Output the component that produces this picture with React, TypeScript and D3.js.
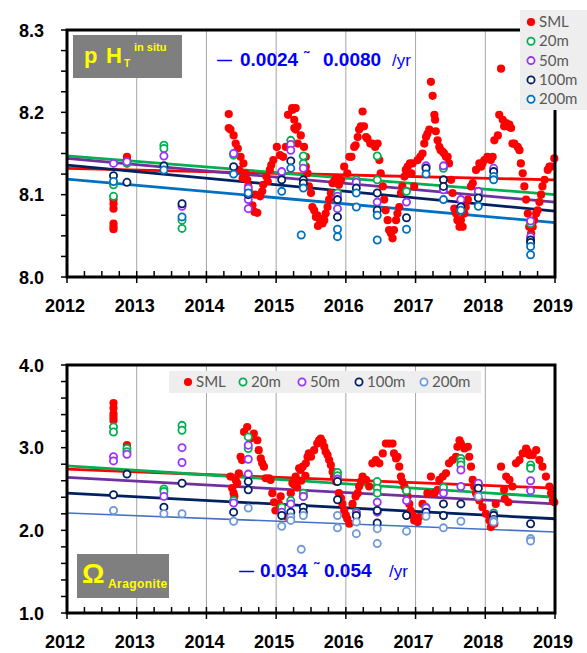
import React from 'react';
import * as d3 from 'd3';

type Pt = [number, number];

// ---- data (decimal year, value) ----
const yearTicks = [2012, 2013, 2014, 2015, 2016, 2017, 2018, 2019];
const depthNames = ['SML', '20m', '50m', '100m', '200m'];
const phTicks = [8.0, 8.1, 8.2, 8.3];
const omTicks = [1.0, 2.0, 3.0, 4.0];

const phSML: Pt[] = [
  [2012.667, 8.094], [2012.667, 8.089], [2012.667, 8.083], [2012.667, 8.065], [2012.667, 8.061], [2012.667, 8.058],
  [2012.86, 8.146], [2012.86, 8.143],
  [2014.32, 8.198], [2014.32, 8.181], [2014.345, 8.179], [2014.39, 8.172], [2014.42, 8.162], [2014.45, 8.156],
  [2014.47, 8.130], [2014.49, 8.146], [2014.52, 8.120], [2014.53, 8.138], [2014.56, 8.126], [2014.585, 8.118],
  [2014.60, 8.110], [2014.62, 8.102], [2014.66, 8.087], [2014.69, 8.079], [2014.70, 8.100], [2014.73, 8.078],
  [2014.77, 8.098], [2014.80, 8.104], [2014.815, 8.112], [2014.86, 8.122], [2014.88, 8.116], [2014.91, 8.130],
  [2014.93, 8.136], [2014.96, 8.142], [2015.01, 8.158], [2015.055, 8.148], [2015.10, 8.146], [2015.14, 8.158],
  [2015.17, 8.197], [2015.23, 8.205], [2015.26, 8.181], [2015.28, 8.205], [2015.31, 8.162],
  [2015.234, 8.203], [2015.26, 8.191], [2015.28, 8.179], [2015.306, 8.183], [2015.354, 8.172], [2015.40, 8.158],
  [2015.426, 8.146], [2015.426, 8.134], [2015.45, 8.126], [2015.47, 8.110], [2015.50, 8.102], [2015.52, 8.085],
  [2015.545, 8.081], [2015.57, 8.073], [2015.59, 8.075], [2015.60, 8.062], [2015.617, 8.071], [2015.64, 8.067],
  [2015.65, 8.070], [2015.665, 8.065], [2015.69, 8.069], [2015.71, 8.077], [2015.737, 8.085], [2015.76, 8.094],
  [2015.785, 8.102], [2015.81, 8.114], [2015.83, 8.116], [2015.856, 8.120], [2015.90, 8.112], [2015.93, 8.118],
  [2015.976, 8.134], [2016.02, 8.126], [2016.05, 8.146], [2016.08, 8.146], [2016.12, 8.158], [2016.14, 8.160],
  [2016.17, 8.170], [2016.19, 8.179], [2016.215, 8.183], [2016.24, 8.201], [2016.26, 8.183], [2016.29, 8.170],
  [2016.31, 8.168], [2016.35, 8.162], [2016.38, 8.162], [2016.42, 8.158], [2016.455, 8.162], [2016.48, 8.142],
  [2016.50, 8.126], [2016.53, 8.110], [2016.55, 8.094], [2016.57, 8.081], [2016.60, 8.069], [2016.62, 8.057],
  [2016.646, 8.053], [2016.67, 8.047], [2016.69, 8.057], [2016.72, 8.069], [2016.74, 8.077], [2016.766, 8.085],
  [2016.79, 8.102], [2016.81, 8.110], [2016.84, 8.122], [2016.86, 8.130], [2016.886, 8.134], [2016.92, 8.138],
  [2016.94, 8.126], [2016.957, 8.138], [2016.98, 8.110],
  [2017.03, 8.142], [2017.067, 8.146], [2017.10, 8.150], [2017.125, 8.162], [2017.15, 8.170], [2017.17, 8.174],
  [2017.197, 8.179], [2017.22, 8.237], [2017.245, 8.220], [2017.27, 8.197], [2017.28, 8.191], [2017.29, 8.177],
  [2017.316, 8.166], [2017.34, 8.158], [2017.36, 8.154], [2017.39, 8.152], [2017.41, 8.150], [2017.436, 8.146],
  [2017.46, 8.146], [2017.48, 8.138], [2017.51, 8.118], [2017.53, 8.102], [2017.556, 8.083], [2017.58, 8.077],
  [2017.60, 8.069], [2017.63, 8.061], [2017.65, 8.069], [2017.675, 8.061], [2017.70, 8.077], [2017.72, 8.085],
  [2017.75, 8.094], [2017.795, 8.110], [2017.82, 8.114], [2017.867, 8.130], [2017.915, 8.138], [2017.94, 8.134],
  [2017.96, 8.138], [2017.987, 8.142], [2018.03, 8.146], [2018.08, 8.142],
  [2018.106, 8.146], [2018.13, 8.166], [2018.18, 8.172], [2018.20, 8.197], [2018.226, 8.253], [2018.25, 8.191],
  [2018.27, 8.183], [2018.30, 8.187], [2018.32, 8.183], [2018.346, 8.185], [2018.37, 8.181], [2018.39, 8.162],
  [2018.417, 8.162], [2018.465, 8.158], [2018.49, 8.154], [2018.51, 8.138], [2018.537, 8.126], [2018.56, 8.110],
  [2018.585, 8.094], [2018.61, 8.077], [2018.63, 8.061], [2018.657, 8.053], [2018.68, 8.061], [2018.70, 8.069],
  [2018.73, 8.077], [2018.75, 8.081], [2018.776, 8.091], [2018.80, 8.100], [2018.82, 8.110], [2018.85, 8.118],
  [2018.896, 8.130], [2018.92, 8.134], [2018.944, 8.134], [2018.99, 8.144],
];

const ph20: Pt[] = [
  [2012.667, 8.112], [2012.667, 8.098], [2012.86, 8.138], [2013.39, 8.160], [2013.39, 8.156],
  [2013.65, 8.069], [2013.65, 8.059], [2014.39, 8.148], [2014.6, 8.105], [2015.08, 8.126],
  [2015.21, 8.166], [2015.39, 8.147], [2015.39, 8.138], [2015.88, 8.102], [2016.15, 8.118],
  [2016.45, 8.147], [2016.45, 8.118], [2016.87, 8.104], [2017.15, 8.134], [2017.4, 8.132],
  [2017.65, 8.081], [2017.9, 8.102], [2018.12, 8.130], [2018.65, 8.065],
];
const ph50: Pt[] = [
  [2012.667, 8.138], [2012.86, 8.140], [2013.39, 8.147], [2013.65, 8.086], [2014.39, 8.150],
  [2014.6, 8.108], [2014.6, 8.094], [2014.6, 8.083], [2015.08, 8.128], [2015.21, 8.161],
  [2015.21, 8.154], [2015.39, 8.132], [2015.88, 8.098], [2015.88, 8.083], [2016.15, 8.115],
  [2016.45, 8.091], [2016.87, 8.091], [2017.15, 8.135], [2017.4, 8.135], [2017.4, 8.106],
  [2017.65, 8.094], [2017.9, 8.104], [2018.12, 8.132], [2018.65, 8.068], [2018.65, 8.049],
];
const ph100: Pt[] = [
  [2012.667, 8.123], [2012.86, 8.115], [2013.39, 8.135], [2013.65, 8.089], [2014.39, 8.134],
  [2014.6, 8.100], [2015.08, 8.118], [2015.21, 8.141], [2015.39, 8.118], [2015.39, 8.114],
  [2015.88, 8.094], [2015.88, 8.073], [2016.15, 8.108], [2016.45, 8.102], [2016.45, 8.081],
  [2016.87, 8.072], [2017.15, 8.132], [2017.4, 8.118], [2017.4, 8.110], [2017.65, 8.085],
  [2017.9, 8.096], [2018.12, 8.128], [2018.65, 8.045], [2018.65, 8.042],
];
const ph200: Pt[] = [
  [2012.667, 8.116], [2013.39, 8.130], [2013.65, 8.073], [2014.39, 8.125], [2014.6, 8.102],
  [2015.08, 8.104], [2015.21, 8.132], [2015.36, 8.051], [2015.39, 8.108], [2015.88, 8.058],
  [2015.88, 8.049], [2016.15, 8.102], [2016.15, 8.085], [2016.45, 8.075], [2016.45, 8.045],
  [2016.87, 8.058], [2017.15, 8.125], [2017.4, 8.094], [2017.65, 8.081], [2017.9, 8.086],
  [2018.12, 8.122], [2018.12, 8.118], [2018.65, 8.037], [2018.65, 8.027],
];

const omSML: Pt[] = [
  [2012.667, 3.54], [2012.667, 3.48], [2012.667, 3.41], [2012.667, 3.37], [2012.667, 3.33], [2012.86, 3.03],
  [2014.345, 2.65], [2014.37, 2.51], [2014.39, 2.45], [2014.40, 2.41], [2014.42, 2.61], [2014.44, 2.57],
  [2014.465, 2.69], [2014.49, 2.89], [2014.51, 2.85], [2014.54, 3.19], [2014.585, 3.25], [2014.63, 3.11],
  [2014.68, 3.17], [2014.73, 3.09], [2014.75, 2.97], [2014.78, 2.87], [2014.80, 2.81], [2014.825, 2.77],
  [2014.85, 2.63], [2014.90, 2.63], [2014.92, 2.61], [2014.945, 2.45], [2014.97, 2.34], [2014.99, 2.24],
  [2015.04, 2.32], [2015.065, 2.41], [2015.16, 2.16], [2015.21, 2.45], [2015.26, 2.55], [2015.30, 2.59],
  [2015.35, 2.73],
  [2015.234, 2.57], [2015.28, 2.65], [2015.30, 2.52], [2015.33, 2.75], [2015.36, 2.60], [2015.38, 2.77],
  [2015.42, 2.66], [2015.426, 2.81], [2015.45, 2.89], [2015.47, 2.93], [2015.50, 2.89], [2015.545, 2.97],
  [2015.59, 3.05], [2015.617, 3.09], [2015.64, 3.11], [2015.665, 3.07], [2015.69, 3.01], [2015.71, 2.95],
  [2015.737, 2.91], [2015.76, 2.85], [2015.785, 2.79], [2015.81, 2.71], [2015.83, 2.65], [2015.856, 2.59],
  [2015.90, 2.45], [2015.93, 2.39], [2015.95, 2.32], [2015.976, 2.24], [2016.0, 2.18], [2016.02, 2.14],
  [2016.05, 2.08],
  [2016.096, 2.32], [2016.14, 2.41], [2016.17, 2.45], [2016.19, 2.53], [2016.215, 2.59], [2016.24, 2.65],
  [2016.29, 2.61], [2016.335, 2.53], [2016.38, 2.81], [2016.43, 2.85], [2016.48, 2.81], [2016.53, 2.93],
  [2016.574, 3.05], [2016.62, 3.05], [2016.67, 3.05], [2016.69, 2.93], [2016.72, 2.87], [2016.74, 2.89],
  [2016.766, 2.77], [2016.79, 2.65], [2016.81, 2.59], [2016.84, 2.53], [2016.86, 2.49], [2016.886, 2.41],
  [2016.91, 2.32], [2016.93, 2.24], [2016.957, 2.18], [2016.98, 2.12], [2017.03, 2.10],
  [2017.05, 2.16], [2017.10, 2.32], [2017.17, 2.45], [2017.22, 2.65], [2017.27, 2.45], [2017.316, 2.49],
  [2017.34, 2.61], [2017.39, 2.65], [2017.436, 2.69], [2017.48, 2.81], [2017.53, 2.85], [2017.58, 2.89],
  [2017.60, 3.01], [2017.63, 3.09], [2017.65, 3.05], [2017.70, 2.99], [2017.75, 3.01], [2017.77, 2.89],
  [2017.795, 2.77], [2017.82, 2.61], [2017.84, 2.53], [2017.867, 2.45], [2017.89, 2.41], [2017.915, 2.36],
  [2017.96, 2.28], [2018.01, 2.20], [2018.06, 2.12], [2018.08, 2.04], [2018.13, 2.08],
  [2018.15, 2.32], [2018.226, 2.77], [2018.27, 2.49], [2018.28, 2.38], [2018.30, 2.65], [2018.33, 2.34],
  [2018.346, 2.61], [2018.39, 2.53], [2018.44, 2.81], [2018.49, 2.85], [2018.537, 2.93], [2018.585, 2.99],
  [2018.61, 2.95], [2018.63, 2.91], [2018.68, 2.91], [2018.73, 2.97], [2018.776, 2.85], [2018.82, 2.77],
  [2018.87, 2.65], [2018.92, 2.53], [2018.944, 2.45], [2018.97, 2.36], [2018.99, 2.34],
];

const om20: Pt[] = [
  [2012.667, 3.25], [2012.667, 3.19], [2012.86, 2.99], [2012.86, 2.95], [2013.39, 2.50], [2013.39, 2.47],
  [2013.65, 3.27], [2013.65, 3.21], [2014.39, 2.36], [2014.6, 3.13], [2014.6, 2.99], [2015.08, 2.28],
  [2015.21, 2.36], [2015.39, 2.45], [2015.39, 2.41], [2015.88, 2.70], [2015.88, 2.66], [2016.15, 2.22],
  [2016.45, 2.59], [2016.45, 2.51], [2016.45, 2.45], [2016.87, 2.48], [2017.15, 2.28], [2017.4, 2.52],
  [2017.65, 2.87], [2017.65, 2.83], [2017.65, 2.79], [2017.9, 2.56], [2018.12, 2.21], [2018.65, 2.79],
  [2018.65, 2.75],
];
const om50: Pt[] = [
  [2012.667, 2.89], [2012.667, 2.84], [2012.86, 2.92], [2013.39, 2.41], [2013.65, 3.00], [2013.65, 2.82],
  [2014.39, 2.33], [2014.6, 3.03], [2014.6, 2.86], [2014.6, 2.68], [2015.08, 2.22], [2015.21, 2.32],
  [2015.39, 2.41], [2015.88, 2.62], [2016.15, 2.21], [2016.45, 2.34], [2016.45, 2.22], [2016.87, 2.36],
  [2017.15, 2.27], [2017.4, 2.45], [2017.65, 2.73], [2017.65, 2.53], [2017.9, 2.57], [2018.12, 2.19],
  [2018.65, 2.60], [2018.65, 2.48],
];
const om100: Pt[] = [
  [2012.667, 2.43], [2012.86, 2.68], [2013.39, 2.28], [2013.65, 2.57], [2014.39, 2.22], [2014.6, 2.59],
  [2014.6, 2.49], [2015.08, 2.18], [2015.21, 2.22], [2015.39, 2.28], [2015.39, 2.22], [2015.88, 2.59],
  [2015.88, 2.37], [2016.15, 2.18], [2016.45, 2.24], [2016.45, 2.09], [2016.87, 2.18], [2017.15, 2.22],
  [2017.4, 2.32], [2017.4, 2.18], [2017.65, 2.32], [2017.9, 2.51], [2018.12, 2.18], [2018.12, 2.13],
  [2018.65, 2.08],
];
const om200: Pt[] = [
  [2012.667, 2.24], [2013.39, 2.20], [2013.65, 2.20], [2014.39, 2.11], [2014.6, 2.27], [2015.08, 2.05],
  [2015.21, 2.16], [2015.21, 2.12], [2015.36, 1.77], [2015.39, 2.18], [2015.88, 2.18], [2015.88, 2.03],
  [2016.15, 2.10], [2016.15, 1.96], [2016.45, 2.02], [2016.45, 1.84], [2016.87, 1.99], [2017.15, 2.17],
  [2017.4, 2.03], [2017.65, 2.11], [2017.9, 2.41], [2018.12, 2.12], [2018.12, 2.10], [2018.65, 1.90],
  [2018.65, 1.87],
];

// trend lines, value at 2012 and 2019 (SML, 20m, 50m, 100m, 200m)
const phTrendStart = [8.132, 8.147, 8.144, 8.136, 8.119];
const phTrendEnd = [8.118, 8.100, 8.091, 8.080, 8.066];
const omTrendStart = [2.74, 2.78, 2.64, 2.45, 2.21];
const omTrendEnd = [2.51, 2.40, 2.32, 2.14, 1.98];

const RED = '#ff0000';
const GREEN = '#00b050';
const PURPLE = '#9933ff';
const PURPLE_LINE = '#7030a0';
const NAVY = '#002060';
const BLUE = '#0070c0';
const LIGHTBLUE = '#6f99d8';
const LIGHTBLUE_LINE = '#4472c4';

const L = 67;
const R = 555;
const boldFont = '"Liberation Sans", Arial, sans-serif';
const legendFont = 'Lato, "Open Sans", sans-serif';

interface PanelProps {
  top: number;
  bottom: number;
  domain: [number, number];
  ticks: number[];
  minorStep: number;
  series: Pt[][];
  markerColors: string[];
  lineColors: string[];
  lineWidths: number[];
  trendStart: number[];
  trendEnd: number[];
}

const Marker: React.FC<{ cx: number; cy: number; color: string; filled: boolean }> = ({ cx, cy, color, filled }) =>
  filled ? (
    <circle cx={cx} cy={cy} r={4.1} fill={color} />
  ) : (
    <circle cx={cx} cy={cy} r={3.6} fill="#fff" stroke={color} strokeWidth={1.8} />
  );

const Panel: React.FC<PanelProps> = ({
  top, bottom, domain, ticks, minorStep, series, markerColors, lineColors, lineWidths, trendStart, trendEnd,
}) => {
  const x = d3.scaleLinear().domain([2012, 2019]).range([L, R]);
  const y = d3.scaleLinear().domain(domain).range([bottom, top]);
  const minorY = d3.range(domain[0], domain[1] + minorStep / 2, minorStep);
  const minorX = d3.range(2012, 2019.01, 0.25);
  const fmt = d3.format('.1f');

  return (
    <g>
      {/* year gridlines */}
      {yearTicks.slice(1, -1).map((yr) => (
        <line key={'g' + yr} x1={x(yr)} x2={x(yr)} y1={top} y2={bottom} stroke="#a6a6a6" strokeWidth={1} />
      ))}

      {/* trend lines */}
      {trendStart.map((v, i) => (
        <line key={'t' + i} x1={x(2012)} x2={x(2019)} y1={y(v)} y2={y(trendEnd[i])}
          stroke={lineColors[i]} strokeWidth={lineWidths[i]} />
      ))}

      {/* points */}
      {series.map((pts, si) =>
        pts.map((p, j) => (
          <Marker key={si + '-' + j} cx={x(p[0])} cy={y(p[1])} color={markerColors[si]} filled={si === 0} />
        ))
      )}

      {/* minor ticks */}
      {minorY.map((v, i) => (
        <line key={'my' + i} x1={L - 6} x2={L} y1={y(v)} y2={y(v)} stroke="#000" strokeWidth={1.5} />
      ))}
      {minorX.map((v, i) => (
        <line key={'mx' + i} x1={x(v)} x2={x(v)} y1={bottom - 6} y2={bottom} stroke="#000" strokeWidth={1.5} />
      ))}
      {yearTicks.map((yr) => (
        <line key={'xt' + yr} x1={x(yr)} x2={x(yr)} y1={bottom} y2={bottom + 6} stroke="#000" strokeWidth={1.5} />
      ))}

      {/* frame */}
      <rect x={L} y={top} width={R - L} height={bottom - top} fill="none" stroke="#000" strokeWidth={3} />

      {/* labels */}
      {ticks.map((v) => (
        <text key={'yl' + v} x={44} y={y(v) + 6.5} textAnchor="end" fontFamily={boldFont}
          fontWeight="bold" fontSize={18} fill="#000">
          {fmt(v)}
        </text>
      ))}
      {yearTicks.map((yr) => (
        <text key={'xl' + yr} x={x(yr) - 2} y={bottom + 35} textAnchor="middle" fontFamily={boldFont}
          fontWeight="bold" fontSize={18} fill="#000">
          {yr}
        </text>
      ))}
    </g>
  );
};

const App: React.FC = () => {
  const topColors = [RED, GREEN, PURPLE, NAVY, BLUE];
  const botColors = [RED, GREEN, PURPLE, NAVY, LIGHTBLUE];

  return (
    <div style={{ position: 'absolute', left: 0, top: 0 }}>
      <svg width={587} height={653} style={{ display: 'block', background: '#fff' }}>
        <Panel
          top={30}
          bottom={277}
          domain={[8.0, 8.3]}
          ticks={phTicks}
          minorStep={0.025}
          series={[phSML, ph20, ph50, ph100, ph200]}
          markerColors={topColors}
          lineColors={[RED, GREEN, PURPLE_LINE, NAVY, BLUE]}
          lineWidths={[2.8, 2.8, 2.8, 2.8, 2.8]}
          trendStart={phTrendStart}
          trendEnd={phTrendEnd}
        />
        <Panel
          top={365}
          bottom={613}
          domain={[1.0, 4.0]}
          ticks={omTicks}
          minorStep={0.2}
          series={[omSML, om20, om50, om100, om200]}
          markerColors={botColors}
          lineColors={[RED, GREEN, PURPLE_LINE, NAVY, LIGHTBLUE_LINE]}
          lineWidths={[2.8, 2.8, 2.8, 2.8, 1.6]}
          trendStart={omTrendStart}
          trendEnd={omTrendEnd}
        />

        {/* pH title box */}
        <rect x={73} y={35} width={109} height={43} fill="#7f7f7f" />
        <text y={63} fontFamily={boldFont} fontWeight="bold" fontSize={22} fill="#ffff00">
          <tspan x={84}>p</tspan>
          <tspan x={106}>H</tspan>
        </text>
        <text x={124} y={67} fontFamily={boldFont} fontWeight="bold" fontSize={10} fill="#ffff00">T</text>
        <text x={134} y={51} fontFamily={boldFont} fontWeight="bold" fontSize={11} fill="#ffff00">in situ</text>

        {/* Omega title box */}
        <rect x={77} y={554} width={92} height={44} fill="#7f7f7f" />
        <text x={82} y={583} fontFamily={boldFont} fontWeight="bold" fontSize={28} fill="#ffff00">Ω</text>
        <text x={108} y={588} fontFamily={boldFont} fontWeight="bold" fontSize={12} fill="#ffff00"
          letterSpacing={0.4}>Aragonite</text>

        {/* trend annotation */}
        <text y={66} fontFamily={boldFont} fontSize={19} fill="#0000ff">
          <tspan x={217} fontWeight="bold" fontSize={15} dy={-1}>—</tspan>
          <tspan x={240} dy={1} fontWeight="bold">0.0024</tspan>
          <tspan x={304} dy={-4} fontWeight="bold" fontSize={15}>˜</tspan>
          <tspan x={323} dy={4} fontWeight="bold">0.0080</tspan>
          <tspan x={392} fontSize={17}>/yr</tspan>
        </text>
        <text y={577} fontFamily={boldFont} fontSize={19} fill="#0000ff">
          <tspan x={239} fontWeight="bold" fontSize={15} dy={-1}>—</tspan>
          <tspan x={260} dy={1} fontWeight="bold">0.034</tspan>
          <tspan x={314} dy={-4} fontWeight="bold" fontSize={15}>˜</tspan>
          <tspan x={324} dy={4} fontWeight="bold">0.054</tspan>
          <tspan x={389} fontSize={17}>/yr</tspan>
        </text>

        {/* top legend (vertical) */}
        <rect x={520} y={10} width={67} height={100} fill="#eeeeee" />
        {depthNames.map((name, i) => (
          <g key={'lt' + name}>
            <Marker cx={531} cy={22 + i * 19.3} color={topColors[i]} filled={i === 0} />
            <text x={539} y={22 + i * 19.3 + 5} fontFamily={legendFont} fontSize={15} fill="#595959">{name}</text>
          </g>
        ))}

        {/* bottom legend (horizontal) */}
        <rect x={169} y={371} width={312} height={22} fill="#eeeeee" />
        {depthNames.map((name, i) => {
          const mx = [188, 243, 302, 359, 424][i];
          return (
            <g key={'lb' + name}>
              <Marker cx={mx} cy={382} color={botColors[i]} filled={i === 0} />
              <text x={mx + 8} y={387} fontFamily={legendFont} fontSize={15} fill="#595959">{name}</text>
            </g>
          );
        })}
      </svg>
    </div>
  );
};

export default App;
